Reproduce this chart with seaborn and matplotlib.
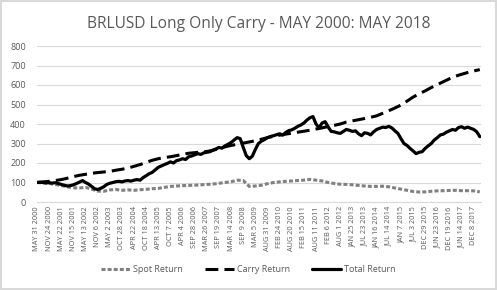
import numpy as np
import pandas as pd
import matplotlib
matplotlib.use('Agg')
import matplotlib.pyplot as plt
import seaborn as sns

# ----------------------------------------------------
# Data (x in units of label intervals)
# ----------------------------------------------------
tick_labels = ['MAY 31 2000', 'NOV 24 2000', 'MAY 22 2001', 'NOV 15 2001', 'MAY 13 2002',
               'NOV 6 2002', 'MAY 2 2003', 'OCT 28 2003', 'APR 22 2004', 'OCT 18 2004',
               'APR 13 2005', 'OCT 7 2005', 'APR 4 2006', 'SEP 28 2006', 'MAR 26 2007',
               'SEP 19 2007', 'MAR 14 2008', 'SEP 9 2008', 'MAR 5 2009', 'AUG 31 2009',
               'FEB 24 2010', 'AUG 20 2010', 'FEB 15 2011', 'AUG 11 2011', 'FEB 6 2012',
               'AUG 1 2012', 'JAN 25 2013', 'JUL 23 2013', 'JAN 16 2014', 'JUL 14 2014',
               'JAN 7 2015', 'JUL 3 2015', 'DEC 29 2015', 'JUN 23 2016', 'DEC 19 2016',
               'JUN 14 2017', 'DEC 8 2017']

# half-interval samples
spot_return = [100, 98, 95, 90, 84, 78, 73, 72, 75, 66, 56, 55, 62, 64, 60, 62, 60, 63, 65, 68,
               70, 75, 80, 82, 84, 85, 86, 88, 90, 92, 96, 100, 104, 112, 110, 80, 82, 86, 94, 100,
               103, 106, 108, 110, 112, 116, 112, 108, 100, 95, 91, 90, 88, 85, 82, 80, 80, 81, 78, 72,
               66, 60, 54, 51, 52, 55, 57, 58, 59, 60, 58, 58, 57, 52]

carry_return = [100, 103, 106, 110, 115, 122, 130, 137, 142, 147, 151, 154, 157, 163, 168, 174, 183, 192, 203, 214,
                222, 228, 232, 238, 244, 250, 253, 256, 259, 265, 274, 283, 290, 296, 302, 308, 314, 322, 330, 337,
                343, 348, 353, 358, 363, 368, 374, 380, 387, 393, 400, 410, 416, 422, 428, 434, 442, 455, 468, 482,
                497, 517, 538, 555, 570, 587, 602, 617, 632, 645, 655, 664, 672, 679]

# quarter-interval samples
total_return = [100, 101, 100, 98, 99, 97, 99, 95, 90, 86, 82, 84, 88, 95, 102, 110, 100, 92, 80, 68,
                64, 70, 78, 90, 96, 100, 104, 106, 103, 108, 110, 107, 112, 115, 112, 125, 135, 145, 152, 165,
                178, 185, 192, 198, 206, 200, 212, 216, 222, 218, 232, 236, 242, 248, 244, 252, 255, 258, 266, 272,
                280, 276, 288, 296, 305, 318, 330, 325, 280, 238, 222, 235, 270, 300, 312, 320, 330, 336, 340, 345,
                350, 343, 356, 366, 370, 378, 388, 395, 405, 420, 432, 438, 400, 380, 405, 412, 385, 362, 360, 355,
                352, 362, 372, 368, 362, 365, 350, 340, 355, 352, 344, 360, 372, 378, 384, 382, 388, 380, 365, 352,
                325, 300, 290, 275, 262, 248, 255, 258, 275, 288, 300, 318, 330, 344, 348, 358, 365, 372, 368, 382,
                386, 378, 384, 378, 372, 360, 335]

half = pd.DataFrame({'x': np.arange(len(spot_return)) * 0.5,
                     'Spot Return': spot_return,
                     'Carry Return': carry_return})
quarter = pd.DataFrame({'x': np.arange(len(total_return)) * 0.25,
                        'Total Return': total_return})

# ----------------------------------------------------
# Plot
# ----------------------------------------------------
sns.set_style('white')
plt.rcParams['font.family'] = ['Open Sans', 'DejaVu Sans']

grey_txt = '#595959'
fig = plt.figure(figsize=(4.97, 2.90), dpi=100, edgecolor='#d9d9d9', linewidth=1.5)
ax = fig.add_axes([37 / 497, 1 - 202 / 290, 444 / 497, 156 / 290])

sns.lineplot(data=half, x='x', y='Spot Return', ax=ax, color='#808080', lw=2.2,
             label='Spot Return')
ax.lines[-1].set_dashes([1.3, 0.7])
sns.lineplot(data=half, x='x', y='Carry Return', ax=ax, color='black', lw=2.2,
             label='Carry Return')
ax.lines[-1].set_dashes([4.2, 2.0])
sns.lineplot(data=quarter, x='x', y='Total Return', ax=ax, color='black', lw=2.3,
             label='Total Return')

ax.set_xlim(0, 36.6)
ax.set_ylim(0, 800)
ax.set_yticks(range(0, 801, 100))
ax.set_xticks(range(len(tick_labels)))
ax.set_xticklabels(tick_labels, rotation=90, fontsize=5.3, color=grey_txt)
ax.tick_params(axis='y', labelsize=6.5, colors=grey_txt, length=0, pad=8)
ax.tick_params(axis='x', length=0, pad=3)
ax.yaxis.grid(True, color='#d9d9d9', lw=0.8)
ax.set_axisbelow(True)
for s in ['left', 'right', 'top']:
    ax.spines[s].set_visible(False)
ax.spines['bottom'].set_color('#d9d9d9')
ax.set_xlabel('')
ax.set_ylabel('')

ax.set_title('BRLUSD Long Only Carry - MAY 2000: MAY 2018', fontsize=11.2, color=grey_txt, pad=13)

handles, labels = ax.get_legend_handles_labels()
ax.get_legend().remove()
fig.legend(handles, labels, loc='center', bbox_to_anchor=(0.5, 0.07), ncol=3, frameon=False,
           fontsize=6.5, labelcolor=grey_txt, handlelength=3.2, columnspacing=2.5, handletextpad=0.3)

fig.savefig('out.png', dpi=100)
